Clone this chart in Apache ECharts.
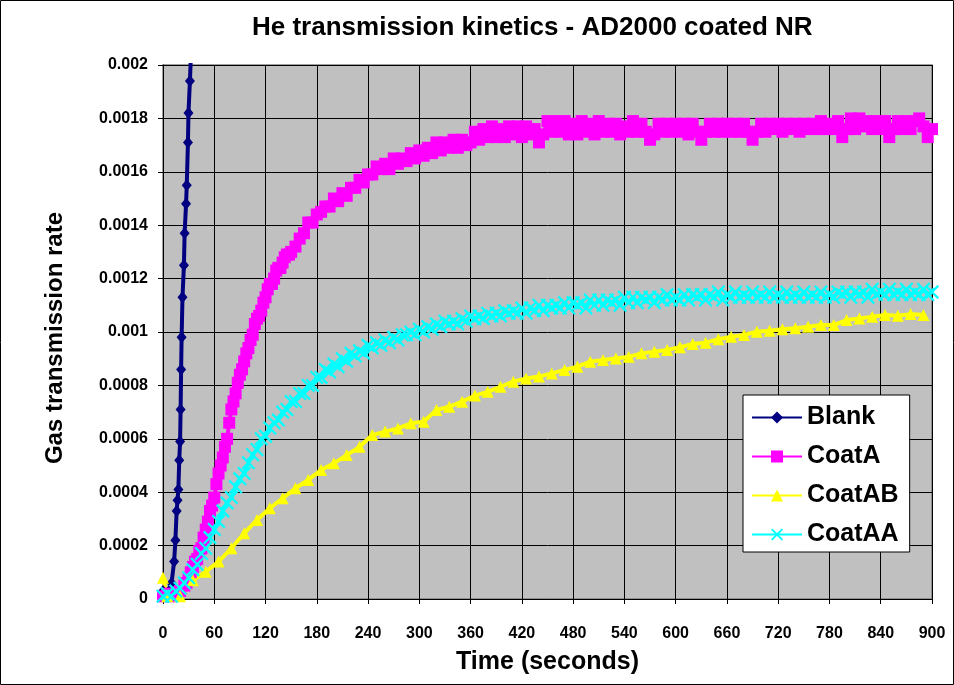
<!DOCTYPE html>
<html>
<head>
<meta charset="utf-8">
<script src="https://cdn.jsdelivr.net/npm/echarts@6/dist/echarts.min.js"></script>
<style>
  html, body { margin: 0; padding: 0; background: #fff; }
  #chart { width: 954px; height: 685px; }
</style>
</head>
<body>
<div id="chart"></div>
<script>
// [time (s), gas transmission rate]
const blank = [
  [0, 0.00003], [4, 0.00002], [7, 0.00003], [10, 0.00006], [13, 0.00014], [14.5, 0.00022],
  [16, 0.00033], [17, 0.00037], [18, 0.00041], [19, 0.00052], [20, 0.00059], [20.6, 0.00071],
  [21.2, 0.00086], [21.8, 0.00098], [22.8, 0.00113], [24.5, 0.00125], [25.3, 0.00137],
  [27, 0.00148], [27.8, 0.00155], [29.2, 0.00171], [29.8, 0.00182], [31.5, 0.00194], [33, 0.00206]
]

const coatA = [
  [0, 0.00001], [5, 0.00002], [10, 0.00001], [15, 0.00002], [20, 0.00003], [25, 0.00005],
  [27.5, 0.00006], [30, 0.00008], [32.5, 0.0001], [35, 0.00012], [37.5, 0.00014], [40, 0.00015], [42.5, 0.00018], [45, 0.00019], [47.5, 0.00023], [50, 0.00026],
  [52.5, 0.00029], [55, 0.00033], [57.5, 0.00035], [60, 0.00038], [62.5, 0.00043], [65, 0.00047], [67.5, 0.0005], [70, 0.00053], [72.5, 0.00057], [75, 0.0006],
  [77.5, 0.00066], [80, 0.00071], [82.5, 0.00074], [85, 0.00077], [87.5, 0.00081], [90, 0.00084], [92.5, 0.00086], [95, 0.00089], [97.5, 0.00092], [100, 0.00094],
  [102.5, 0.00097], [105, 0.00099], [107.5, 0.00103], [110, 0.00105], [112.5, 0.00106], [115, 0.00108], [117.5, 0.00111], [120, 0.00113], [122.5, 0.00116], [125, 0.00118],
  [127.5, 0.00118], [130, 0.0012], [132.5, 0.00123], [135, 0.00124], [137.5, 0.00124], [140, 0.00126], [142.5, 0.00128], [145, 0.00129], [147.5, 0.00129], [150, 0.0013],
  [155, 0.00132], [160, 0.00135], [165, 0.00137], [170, 0.00141], [175, 0.00141], [180, 0.00144], [185, 0.00145], [190, 0.00147], [195, 0.00147], [200, 0.0015],
  [205, 0.00149], [210, 0.00152], [215, 0.00151], [220, 0.00154], [225, 0.00154], [230, 0.00157], [235, 0.00156], [240, 0.00159], [245, 0.00159], [250, 0.00162],
  [255, 0.00161], [260, 0.00163], [265, 0.00161], [270, 0.00165], [275, 0.00163], [280, 0.00165], [285, 0.00164], [290, 0.00167], [295, 0.00165], [300, 0.00168],
  [305, 0.00166], [310, 0.00169], [315, 0.00167], [320, 0.00171], [325, 0.00168], [330, 0.00171], [335, 0.00169], [340, 0.00172], [345, 0.00169], [350, 0.00172],
  [355, 0.0017], [360, 0.00171], [365, 0.00175], [370, 0.00172], [375, 0.00176], [380, 0.00173], [385, 0.00177], [390, 0.00173], [395, 0.00176], [400, 0.00173],
  [405, 0.00177], [410, 0.00174], [415, 0.00177], [420, 0.00173], [425, 0.00177], [430, 0.00174], [435, 0.00176], [440, 0.00171], [445, 0.00174], [450, 0.00179],
  [455, 0.00175], [460, 0.00179], [465, 0.00175], [470, 0.00179], [475, 0.00174], [480, 0.00178], [485, 0.00174], [490, 0.00179], [495, 0.00175], [500, 0.00178],
  [505, 0.00174], [510, 0.00179], [515, 0.00175], [520, 0.00178], [525, 0.00175], [530, 0.00178], [535, 0.00174], [540, 0.00177], [545, 0.00175], [550, 0.00179],
  [555, 0.00175], [560, 0.00178], [565, 0.00175], [570, 0.00172], [575, 0.00174], [580, 0.00178], [585, 0.00175], [590, 0.00178], [595, 0.00175], [600, 0.00178],
  [605, 0.00175], [610, 0.00178], [615, 0.00174], [620, 0.00178], [625, 0.00175], [630, 0.00172], [635, 0.00175], [640, 0.00178], [645, 0.00175], [650, 0.00178],
  [655, 0.00175], [660, 0.00178], [665, 0.00175], [670, 0.00178], [675, 0.00175], [680, 0.00178], [685, 0.00175], [690, 0.00172], [695, 0.00175], [700, 0.00178],
  [705, 0.00175], [710, 0.00178], [715, 0.00176], [720, 0.00178], [725, 0.00175], [730, 0.00178], [735, 0.00176], [740, 0.00178], [745, 0.00175], [750, 0.00178],
  [755, 0.00176], [760, 0.00178], [765, 0.00176], [770, 0.00179], [775, 0.00176], [780, 0.00178], [785, 0.00176], [790, 0.00179], [795, 0.00173], [800, 0.00176],
  [805, 0.0018], [810, 0.00176], [815, 0.0018], [820, 0.00177], [825, 0.00179], [830, 0.00176], [835, 0.00179], [840, 0.00176], [845, 0.00179], [850, 0.00173],
  [855, 0.00176], [860, 0.00179], [865, 0.00176], [870, 0.00179], [875, 0.00176], [880, 0.00179], [885, 0.0018], [890, 0.00177], [895, 0.00173], [900, 0.00176]
]

const coatAB = [
  [0, 0.00008], [5, 0.00001], [20, 0.00001], [35, 0.00007], [50, 0.000102], [65, 0.00014], [80, 0.00019], [95, 0.000246],
  [110, 0.000296], [125, 0.00034], [140, 0.000377], [155, 0.000415], [170, 0.000446], [185, 0.000483], [200, 0.000508],
  [215, 0.000539], [230, 0.00057], [245, 0.000614], [260, 0.000627], [275, 0.000639], [290, 0.000658], [305, 0.000664],
  [320, 0.000708], [335, 0.00072], [350, 0.000739], [365, 0.000762], [380, 0.000776], [395, 0.000795], [410, 0.000814],
  [425, 0.000826], [440, 0.000833], [455, 0.000845], [470, 0.000858], [485, 0.00087], [500, 0.000889], [515, 0.000895],
  [530, 0.000901], [545, 0.000907], [560, 0.00092], [575, 0.000926], [590, 0.000933], [605, 0.000943], [620, 0.000955],
  [635, 0.00096], [650, 0.000973], [665, 0.000982], [680, 0.000989], [695, 0.001001], [710, 0.001005], [725, 0.00101],
  [740, 0.001014], [755, 0.00102], [770, 0.001026], [785, 0.001026], [800, 0.001045], [815, 0.001051], [830, 0.001057],
  [845, 0.001064], [860, 0.001061], [875, 0.001067], [890, 0.001064]
]

const coatAA = [
  [0, 0.00001], [5, 0.00002], [10, 0.00001], [15, 0.00003], [20, 0.00004], [25, 0.00006], [30, 0.00008], [35, 0.00011], [40, 0.00013], [45, 0.00017],
  [50, 0.00019], [55, 0.00023], [60, 0.00026], [65, 0.00029], [70, 0.00033], [75, 0.00036], [80, 0.00038], [85, 0.00042], [90, 0.00045], [95, 0.00047],
  [100, 0.00051], [105, 0.00054], [110, 0.00056], [115, 0.0006], [120, 0.00061], [125, 0.00064], [130, 0.00066], [135, 0.00067], [140, 0.0007], [145, 0.00071],
  [150, 0.00074], [155, 0.00074], [160, 0.00077], [165, 0.00077], [170, 0.0008], [175, 0.0008], [180, 0.00083], [185, 0.00083], [190, 0.00086], [195, 0.00085],
  [200, 0.00088], [205, 0.00087], [210, 0.0009], [215, 0.00089], [220, 0.00092], [225, 0.00091], [230, 0.00093], [235, 0.00092], [240, 0.00095], [245, 0.00094],
  [250, 0.00096], [255, 0.00095], [260, 0.00097], [265, 0.00096], [270, 0.00098], [275, 0.00097], [280, 0.00099], [285, 0.00099], [290, 0.001], [295, 0.00099],
  [300, 0.00101], [305, 0.001], [310, 0.00102], [315, 0.00101], [320, 0.00103], [325, 0.00102], [330, 0.00104], [335, 0.00103], [340, 0.00104], [345, 0.00103],
  [350, 0.00105], [355, 0.00104], [360, 0.00106], [365, 0.00105], [370, 0.00106], [375, 0.00105], [380, 0.00107], [385, 0.00106], [390, 0.00107], [395, 0.00106],
  [400, 0.00108], [405, 0.00107], [410, 0.00108], [415, 0.00107], [420, 0.00109], [425, 0.00107], [430, 0.00109], [435, 0.00108], [440, 0.0011], [445, 0.00108],
  [450, 0.0011], [455, 0.00109], [460, 0.0011], [465, 0.00109], [470, 0.00111], [475, 0.00109], [480, 0.00111], [485, 0.0011], [490, 0.00111], [495, 0.00109],
  [500, 0.00112], [505, 0.0011], [510, 0.00112], [515, 0.0011], [520, 0.00112], [525, 0.00111], [530, 0.00112], [535, 0.0011], [540, 0.00113], [545, 0.00111],
  [550, 0.00113], [555, 0.00111], [560, 0.00113], [565, 0.00112], [570, 0.00113], [575, 0.00111], [580, 0.00113], [585, 0.00112], [590, 0.00114], [595, 0.00112],
  [600, 0.00113], [605, 0.00112], [610, 0.00114], [615, 0.00112], [620, 0.00114], [625, 0.00113], [630, 0.00114], [635, 0.00112], [640, 0.00114], [645, 0.00113],
  [650, 0.00115], [655, 0.00112], [660, 0.00114], [665, 0.00113], [670, 0.00115], [675, 0.00113], [680, 0.00114], [685, 0.00113], [690, 0.00115], [695, 0.00113],
  [700, 0.00114], [705, 0.00113], [710, 0.00115], [715, 0.00113], [720, 0.00114], [725, 0.00113], [730, 0.00115], [735, 0.00113], [740, 0.00114], [745, 0.00113],
  [750, 0.00115], [755, 0.00113], [760, 0.00114], [765, 0.00113], [770, 0.00115], [775, 0.00113], [780, 0.00114], [785, 0.00113], [790, 0.00115], [795, 0.00114],
  [800, 0.00115], [805, 0.00113], [810, 0.00115], [815, 0.00114], [820, 0.00115], [825, 0.00113], [830, 0.00116], [835, 0.00114], [840, 0.00115], [845, 0.00114],
  [850, 0.00116], [855, 0.00114], [860, 0.00115], [865, 0.00114], [870, 0.00116], [875, 0.00114], [880, 0.00115], [885, 0.00114], [890, 0.00116], [895, 0.00114],
  [900, 0.00115]
]

const FONT = 'Liberation Sans, Arial, sans-serif'
const crossSymbol = 'path://M0,0.11 L0.11,0 L1,0.89 L0.89,1 Z M0.89,0 L1,0.11 L0.11,1 L0,0.89 Z'

const chart = echarts.init(document.getElementById('chart'))

function lineSeries(name, data, color, symbol, symbolSize, width) {
  return {
    name,
    type: 'line',
    data,
    symbol,
    symbolSize,
    showSymbol: true,
    lineStyle: { color, width },
    itemStyle: { color, borderWidth: 0 },
    emphasis: { disabled: true }
  }
}

chart.setOption({
  animation: false,
  backgroundColor: '#fff',
  textStyle: { fontFamily: FONT },
  graphic: [{
    type: 'rect',
    shape: { x: 0.5, y: 0.5, width: 953, height: 684 },
    style: { fill: 'none', stroke: '#000', lineWidth: 1 },
    z: 100
  }],
  title: {
    text: 'He transmission kinetics - AD2000 coated NR',
    left: 247,
    top: 10,
    textStyle: { fontFamily: FONT, fontSize: 26, fontWeight: 'bold', color: '#000' }
  },
  grid: {
    left: 163, right: 22, top: 65, bottom: 86,
    show: true,
    backgroundColor: '#C0C0C0',
    borderColor: '#808080',
    borderWidth: 1.5
  },
  legend: {
    orient: 'vertical',
    left: 743,
    top: 395,
    padding: [10, 11, 5, 8],
    itemWidth: 50,
    itemHeight: 15,
    itemGap: 14,
    backgroundColor: '#fff',
    borderColor: '#000',
    borderWidth: 1,
    textStyle: { fontFamily: FONT, fontSize: 25, fontWeight: 'bold', color: '#000' },
    data: ['Blank', 'CoatA', 'CoatAB', 'CoatAA']
  },
  xAxis: {
    type: 'value',
    min: 0,
    max: 900,
    interval: 60,
    name: 'Time (seconds)',
    nameLocation: 'middle',
    nameGap: 51,
    nameTextStyle: { fontFamily: FONT, fontSize: 25, fontWeight: 'bold', color: '#000' },
    axisLine: { lineStyle: { color: '#000', width: 1 } },
    axisTick: { show: true, length: 5, lineStyle: { color: '#000' } },
    axisLabel: { color: '#000', fontSize: 16, fontWeight: 'bold', margin: 27 },
    splitLine: { show: true, lineStyle: { color: '#000', width: 1 } }
  },
  yAxis: {
    type: 'value',
    min: 0,
    max: 0.002,
    interval: 0.0002,
    name: 'Gas transmission rate',
    nameLocation: 'middle',
    nameGap: 96,
    nameTextStyle: { fontFamily: FONT, fontSize: 24, fontWeight: 'bold', color: '#000', padding: [0, 12, 0, 0] },
    axisLine: { show: true, lineStyle: { color: '#000', width: 1 } },
    axisTick: { show: true, length: 5, lineStyle: { color: '#000' } },
    axisLabel: {
      color: '#000', fontSize: 16, fontWeight: 'bold', margin: 15,
      formatter: v => String(+v.toFixed(4))
    },
    splitLine: { show: true, lineStyle: { color: '#000', width: 1 } }
  },
  series: [
    lineSeries('Blank', blank, '#000080', 'diamond', [10, 12], 4),
    lineSeries('CoatA', coatA, '#FF00FF', 'rect', 12, 4),
    lineSeries('CoatAB', coatAB, '#FFFF00', 'triangle', 12, 4),
    lineSeries('CoatAA', coatAA, '#00FFFF', crossSymbol, 14, 4)
  ]
})
</script>
</body>
</html>
